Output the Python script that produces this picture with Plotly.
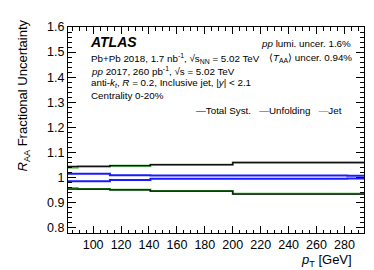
import plotly.graph_objects as go

# ---- data ----
bin_edges = [82, 89, 112, 141, 200, 282, 294]
total_up = [1.045, 1.045, 1.048, 1.052, 1.061, 1.061]
total_dn = [0.955, 0.955, 0.952, 0.947, 0.935, 0.935]
unfold_up = [1.016, 1.016, 1.010, 1.009, 1.009, 1.008]
unfold_dn = [0.986, 0.986, 0.991, 0.996, 0.996, 0.997]
jet_up = [1.041, 1.045, 1.048, 1.052, 1.060, 1.060]
jet_dn = [0.958, 0.955, 0.952, 0.947, 0.936, 0.936]

y_tickvals = [0.8, 0.9, 1.0, 1.1, 1.2, 1.3, 1.4, 1.5, 1.6]
y_ticktext = ["0.8", "0.9", "1", "1.1", "1.2", "1.3", "1.4", "1.5", "1.6"]
x_tickvals = [100, 120, 140, 160, 180, 200, 220, 240, 260, 280]

FONT = "Liberation Sans, Arial, sans-serif"
GREEN = "#22aa22"
BLUE = "#1a1aff"


def step(vals):
    return list(vals) + [vals[-1]]


fig = go.Figure()
for vals in (jet_up, jet_dn):
    fig.add_trace(go.Scatter(x=bin_edges, y=step(vals), mode="lines",
                             line=dict(color=GREEN, width=2, shape="hv"),
                             showlegend=False, hoverinfo="skip"))
for vals in (unfold_up, unfold_dn):
    fig.add_trace(go.Scatter(x=bin_edges, y=step(vals), mode="lines",
                             line=dict(color=BLUE, width=2, shape="hv"),
                             showlegend=False, hoverinfo="skip"))
for vals in (total_up, total_dn):
    fig.add_trace(go.Scatter(x=bin_edges, y=step(vals), mode="lines",
                             line=dict(color="#111111", width=1.3, shape="hv"),
                             showlegend=False, hoverinfo="skip"))

axis_common = dict(showgrid=False, zeroline=False, showline=True, linecolor="black",
                   linewidth=1, mirror="allticks", ticks="inside", tickcolor="black",
                   tickfont=dict(family=FONT, size=12.5, color="black"))

fig.update_xaxes(range=[82, 294], tickvals=x_tickvals, ticklen=7,
                 minor=dict(dtick=5, tick0=0, ticks="inside", ticklen=3.5, tickcolor="black"),
                 **axis_common)
fig.update_yaxes(range=[0.78, 1.6], tickvals=y_tickvals, ticktext=y_ticktext, ticklen=8,
                 minor=dict(dtick=0.02, tick0=0, ticks="inside", ticklen=4, tickcolor="black"),
                 **axis_common)

W, H = 374, 270
L, R, T, B = 60, 18, 15, 44.5
pw, ph = W - L - R, H - T - B


def px(x):
    return (x - L) / pw


def py(y):
    return (H - B - y) / ph


txt = 9.8
ann = []
ann.append(dict(x=px(80), y=py(30), text="<b><i>ATLAS</i></b>", xanchor="left", yanchor="middle",
                font=dict(size=14, family=FONT)))
ann.append(dict(x=px(345), y=py(32), text="<i>pp</i> lumi. uncer. 1.6%", xanchor="right",
                yanchor="middle", font=dict(size=txt, family=FONT)))
ann.append(dict(x=px(81), y=py(46.7),
                text="Pb+Pb 2018, 1.7 nb<sup>-1</sup>, √s<sub>NN</sub> = 5.02 TeV",
                xanchor="left", yanchor="middle", font=dict(size=txt, family=FONT)))
ann.append(dict(x=px(346), y=py(46.7), text="⟨<i>T</i><sub>AA</sub>⟩ uncer. 0.94%",
                xanchor="right", yanchor="middle", font=dict(size=txt, family=FONT)))
ann.append(dict(x=px(81), y=py(59.5),
                text="<i>pp</i> 2017, 260 pb<sup>-1</sup>, √s = 5.02 TeV",
                xanchor="left", yanchor="middle", font=dict(size=txt, family=FONT)))
ann.append(dict(x=px(81), y=py(72),
                text="anti-<i>k</i><sub><i>t</i></sub>, <i>R</i> = 0.2, Inclusive jet, |<i>y</i>| &lt; 2.1",
                xanchor="left", yanchor="middle", font=dict(size=txt, family=FONT)))
ann.append(dict(x=px(81), y=py(85), text="Centrality 0-20%",
                xanchor="left", yanchor="middle", font=dict(size=txt, family=FONT)))
ann.append(dict(x=px(336), y=py(100),
                text='<span style="color:#000000">—</span>Total Syst.   '
                     '<span style="color:' + BLUE + '">—</span>Unfolding   '
                     '<span style="color:' + GREEN + '">—</span>Jet',
                xanchor="right", yanchor="middle", font=dict(size=txt, family=FONT)))
# axis titles
ann.append(dict(x=px(16), y=py(85), text="<i>R</i><sub>AA</sub> Fractional Uncertainty",
                textangle=-90, xanchor="center", yanchor="middle",
                font=dict(size=13, family=FONT)))
ann.append(dict(x=px(346), y=py(254), text="<i>p</i><sub>T</sub> [GeV]",
                xanchor="right", yanchor="middle", font=dict(size=13, family=FONT)))
for a in ann:
    a.update(xref="paper", yref="paper", showarrow=False)

fig.update_layout(width=W, height=H, margin=dict(l=L, r=R, t=T, b=B),
                  paper_bgcolor="white", plot_bgcolor="white",
                  annotations=ann, showlegend=False,
                  font=dict(family=FONT, color="black"))

fig.write_html("out.html")
